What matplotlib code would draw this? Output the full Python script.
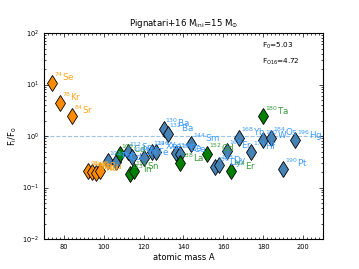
import numpy as np
import matplotlib.pyplot as plt
from matplotlib.ticker import AutoMinorLocator, LogLocator, NullFormatter

# p-nuclei: masa, elemento, F_i/F_0, grupo
masa = [74, 78, 84, 92, 94, 96, 98, 102, 106, 108, 112, 113, 114, 115, 120,
        124, 126, 130, 132, 136, 138, 138, 144, 152, 156, 158, 162, 164, 168,
        174, 180, 180, 184, 190, 196]
elem = ['Se', 'Kr', 'Sr', 'Mo', 'Mo', 'Ru', 'Ru', 'Pd', 'Cd', 'Cd', 'Sn', 'In',
        'Sn', 'Sn', 'Te', 'Xe', 'Xe', 'Ba', 'Ba', 'Ce', 'Ce', 'La', 'Sm', 'Gd',
        'Dy', 'Dy', 'Er', 'Er', 'Yb', 'Hf', 'Ta', 'W', 'Os', 'Pt', 'Hg']
valor = [10.9, 4.4, 2.5, 0.21, 0.20, 0.19, 0.21, 0.32, 0.31, 0.44, 0.48, 0.18,
         0.39, 0.21, 0.38, 0.50, 0.50, 1.38, 1.10, 0.47, 0.44, 0.30, 0.71, 0.45,
         0.25, 0.27, 0.52, 0.21, 0.93, 0.50, 2.4, 0.83, 0.93, 0.23, 0.82]
grupo = ['o', 'o', 'o', 'o', 'o', 'o', 'o', 'b', 'b', 'g', 'b', 'g',
         'b', 'g', 'b', 'b', 'b', 'b', 'b', 'b', 'b', 'g', 'b', 'g',
         'b', 'b', 'b', 'g', 'b', 'b', 'g', 'b', 'b', 'b', 'b']

F0 = 5.03
FO16 = 4.72

col_marca = {'o': '#ff8c00', 'b': '#4682b4', 'g': '#008000'}
col_texto = {'o': '#ffa31a', 'b': '#3d9bff', 'g': '#3a9a3a'}

fig = plt.figure(figsize=(3.59, 2.69), dpi=100)
ax = fig.add_axes([0.1226, 0.1115, 0.777, 0.7658])

for A, el, v, g in zip(masa, elem, valor, grupo):
    ax.plot(A, v, marker='d', ms=8, color=col_marca[g], mec='black', mew=0.6,
            ls='none', zorder=3)
    ax.annotate(r'$^{%d}$%s' % (A, el), (A, v), xytext=(1.2, 1.0),
                textcoords='offset points', fontsize=6.3, color=col_texto[g],
                ha='left', va='baseline', zorder=4)

ax.axhline(1.0, color='#9ec3e6', ls='--', lw=0.8, zorder=1)

ax.set_yscale('log')
ax.set_xlim(70, 210)
ax.set_ylim(1e-2, 1e2)
ax.set_xticks([80, 100, 120, 140, 160, 180, 200])
ax.xaxis.set_minor_locator(AutoMinorLocator(10))
ax.yaxis.set_major_locator(LogLocator(base=10, numticks=10))
ax.yaxis.set_minor_locator(LogLocator(base=10, subs=np.arange(2, 10), numticks=20))
ax.yaxis.set_minor_formatter(NullFormatter())
ax.tick_params(which='both', direction='in', top=True, right=True,
               labelsize=4.8, width=0.5)
ax.tick_params(which='major', length=3)
ax.tick_params(which='minor', length=1.5)
for s in ax.spines.values():
    s.set_linewidth(0.8)

ax.set_title(r'Pignatari+16 M$_{\mathrm{ini}}$=15 M$_{\odot}$', fontsize=6.2, pad=5)
ax.set_xlabel('atomic mass A', fontsize=6, labelpad=2)
ax.set_ylabel(r'F$_{\mathrm{i}}$/F$_0$', fontsize=6, labelpad=2)

ax.text(0.78, 0.93, r'F$_0$=%.2f' % F0, transform=ax.transAxes, fontsize=5.2)
ax.text(0.78, 0.85, r'F$_{\mathrm{O16}}$=%.2f' % FO16, transform=ax.transAxes,
        fontsize=5.2)

fig.savefig('out.png', dpi=100)
